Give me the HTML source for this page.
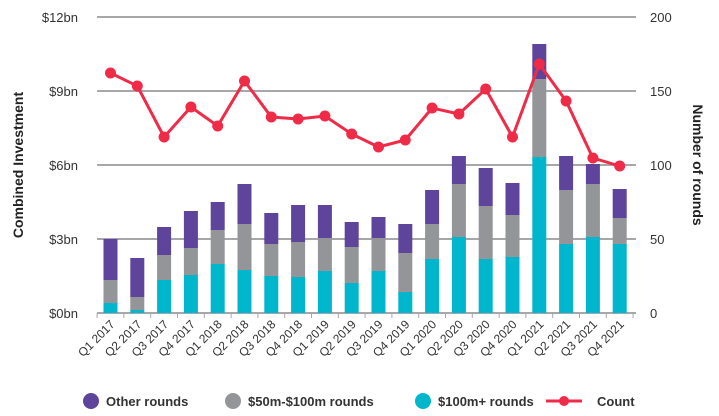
<!DOCTYPE html>
<html><head><style>body{margin:0;background:#fff}svg{display:block}text{font-family:"Liberation Sans",sans-serif}</style></head><body>
<svg width="719" height="416" xmlns="http://www.w3.org/2000/svg">
<g stroke="#a7a7a9" stroke-width="2">
<line x1="97" y1="17" x2="636" y2="17"/><line x1="97" y1="91" x2="636" y2="91"/><line x1="97" y1="165" x2="636" y2="165"/><line x1="97" y1="239" x2="636" y2="239"/><line x1="97" y1="313" x2="636" y2="313"/>
</g>
<g stroke="#a7a7a9" stroke-width="1">
<line x1="97.1" y1="313" x2="97.1" y2="318"/><line x1="123.9" y1="313" x2="123.9" y2="318"/><line x1="150.7" y1="313" x2="150.7" y2="318"/><line x1="177.5" y1="313" x2="177.5" y2="318"/><line x1="204.3" y1="313" x2="204.3" y2="318"/><line x1="231.1" y1="313" x2="231.1" y2="318"/><line x1="257.9" y1="313" x2="257.9" y2="318"/><line x1="284.7" y1="313" x2="284.7" y2="318"/><line x1="311.5" y1="313" x2="311.5" y2="318"/><line x1="338.3" y1="313" x2="338.3" y2="318"/><line x1="365.1" y1="313" x2="365.1" y2="318"/><line x1="391.9" y1="313" x2="391.9" y2="318"/><line x1="418.7" y1="313" x2="418.7" y2="318"/><line x1="445.5" y1="313" x2="445.5" y2="318"/><line x1="472.3" y1="313" x2="472.3" y2="318"/><line x1="499.1" y1="313" x2="499.1" y2="318"/><line x1="525.9" y1="313" x2="525.9" y2="318"/><line x1="552.7" y1="313" x2="552.7" y2="318"/><line x1="579.5" y1="313" x2="579.5" y2="318"/><line x1="606.3" y1="313" x2="606.3" y2="318"/><line x1="633.1" y1="313" x2="633.1" y2="318"/>
</g>
<g fill="#5e449b">
<rect x="103.5" y="239" width="14" height="41"/><rect x="130.3" y="258" width="14" height="39"/><rect x="157.1" y="227" width="14" height="28"/><rect x="183.9" y="211" width="14" height="37"/><rect x="210.7" y="202" width="14" height="28"/><rect x="237.5" y="184" width="14" height="40"/><rect x="264.3" y="213" width="14" height="31"/><rect x="291.1" y="205" width="14" height="37"/><rect x="317.9" y="205" width="14" height="33"/><rect x="344.7" y="222" width="14" height="25"/><rect x="371.5" y="217" width="14" height="21"/><rect x="398.3" y="224" width="14" height="29"/><rect x="425.1" y="190" width="14" height="34"/><rect x="451.9" y="156" width="14" height="28"/><rect x="478.7" y="168" width="14" height="38"/><rect x="505.5" y="183" width="14" height="32"/><rect x="532.3" y="44" width="14" height="35"/><rect x="559.1" y="156" width="14" height="34"/><rect x="585.9" y="164" width="14" height="20"/><rect x="612.7" y="189" width="14" height="29"/>
</g>
<g fill="#939598">
<rect x="103.5" y="280" width="14" height="23"/><rect x="130.3" y="297" width="14" height="13"/><rect x="157.1" y="255" width="14" height="25"/><rect x="183.9" y="248" width="14" height="27"/><rect x="210.7" y="230" width="14" height="34"/><rect x="237.5" y="224" width="14" height="46"/><rect x="264.3" y="244" width="14" height="32"/><rect x="291.1" y="242" width="14" height="35"/><rect x="317.9" y="238" width="14" height="33"/><rect x="344.7" y="247" width="14" height="36"/><rect x="371.5" y="238" width="14" height="33"/><rect x="398.3" y="253" width="14" height="39"/><rect x="425.1" y="224" width="14" height="35"/><rect x="451.9" y="184" width="14" height="53"/><rect x="478.7" y="206" width="14" height="53"/><rect x="505.5" y="215" width="14" height="42"/><rect x="532.3" y="79" width="14" height="78"/><rect x="559.1" y="190" width="14" height="54"/><rect x="585.9" y="184" width="14" height="53"/><rect x="612.7" y="218" width="14" height="26"/>
</g>
<g fill="#00b6cc">
<rect x="103.5" y="303" width="14" height="10"/><rect x="130.3" y="310" width="14" height="3"/><rect x="157.1" y="280" width="14" height="33"/><rect x="183.9" y="275" width="14" height="38"/><rect x="210.7" y="264" width="14" height="49"/><rect x="237.5" y="270" width="14" height="43"/><rect x="264.3" y="276" width="14" height="37"/><rect x="291.1" y="277" width="14" height="36"/><rect x="317.9" y="271" width="14" height="42"/><rect x="344.7" y="283" width="14" height="30"/><rect x="371.5" y="271" width="14" height="42"/><rect x="398.3" y="292" width="14" height="21"/><rect x="425.1" y="259" width="14" height="54"/><rect x="451.9" y="237" width="14" height="76"/><rect x="478.7" y="259" width="14" height="54"/><rect x="505.5" y="257" width="14" height="56"/><rect x="532.3" y="157" width="14" height="156"/><rect x="559.1" y="244" width="14" height="69"/><rect x="585.9" y="237" width="14" height="76"/><rect x="612.7" y="244" width="14" height="69"/>
</g>
<polyline fill="none" stroke="#ef2b48" stroke-width="3" points="110.5,73 137.3,86 164.1,137 190.9,107 217.7,126 244.5,81 271.3,117 298.1,119 324.9,116 351.7,134 378.5,147 405.3,140 432.1,108 458.9,114 485.7,89 512.5,137 539.3,64 566.1,101 592.9,158 619.7,166"/>
<g fill="#ef2b48">
<circle cx="110.5" cy="73" r="5.5"/><circle cx="137.3" cy="86" r="5.5"/><circle cx="164.1" cy="137" r="5.5"/><circle cx="190.9" cy="107" r="5.5"/><circle cx="217.7" cy="126" r="5.5"/><circle cx="244.5" cy="81" r="5.5"/><circle cx="271.3" cy="117" r="5.5"/><circle cx="298.1" cy="119" r="5.5"/><circle cx="324.9" cy="116" r="5.5"/><circle cx="351.7" cy="134" r="5.5"/><circle cx="378.5" cy="147" r="5.5"/><circle cx="405.3" cy="140" r="5.5"/><circle cx="432.1" cy="108" r="5.5"/><circle cx="458.9" cy="114" r="5.5"/><circle cx="485.7" cy="89" r="5.5"/><circle cx="512.5" cy="137" r="5.5"/><circle cx="539.3" cy="64" r="5.5"/><circle cx="566.1" cy="101" r="5.5"/><circle cx="592.9" cy="158" r="5.5"/><circle cx="619.7" cy="166" r="5.5"/>
</g>
<g fill="#333" font-size="13" text-anchor="end">
<text x="78" y="22">$12bn</text><text x="78" y="96">$9bn</text><text x="78" y="170">$6bn</text><text x="78" y="244">$3bn</text><text x="78" y="318">$0bn</text>
</g>
<g fill="#333" font-size="13">
<text x="650" y="22">200</text><text x="650" y="96">150</text><text x="650" y="170">100</text><text x="650" y="244">50</text><text x="650" y="318">0</text>
</g>
<text transform="translate(23,165) rotate(-90)" text-anchor="middle" font-size="14" font-weight="bold" fill="#222">Combined Investment</text>
<text transform="translate(693,165) rotate(90)" text-anchor="middle" font-size="14" font-weight="bold" fill="#222">Number of rounds</text>
<g font-size="12" fill="#333" text-anchor="end">
<text transform="translate(115.5,325) rotate(-45)">Q1 2017</text><text transform="translate(142.3,325) rotate(-45)">Q2 2017</text><text transform="translate(169.1,325) rotate(-45)">Q3 2017</text><text transform="translate(195.9,325) rotate(-45)">Q4 2017</text><text transform="translate(222.7,325) rotate(-45)">Q1 2018</text><text transform="translate(249.5,325) rotate(-45)">Q2 2018</text><text transform="translate(276.3,325) rotate(-45)">Q3 2018</text><text transform="translate(303.1,325) rotate(-45)">Q4 2018</text><text transform="translate(329.9,325) rotate(-45)">Q1 2019</text><text transform="translate(356.7,325) rotate(-45)">Q2 2019</text><text transform="translate(383.5,325) rotate(-45)">Q3 2019</text><text transform="translate(410.3,325) rotate(-45)">Q4 2019</text><text transform="translate(437.1,325) rotate(-45)">Q1 2020</text><text transform="translate(463.9,325) rotate(-45)">Q2 2020</text><text transform="translate(490.7,325) rotate(-45)">Q3 2020</text><text transform="translate(517.5,325) rotate(-45)">Q4 2020</text><text transform="translate(544.3,325) rotate(-45)">Q1 2021</text><text transform="translate(571.1,325) rotate(-45)">Q2 2021</text><text transform="translate(597.9,325) rotate(-45)">Q3 2021</text><text transform="translate(624.7,325) rotate(-45)">Q4 2021</text>
</g>
<g font-size="13" font-weight="bold" fill="#333">
<circle cx="91" cy="401" r="8" fill="#5e449b"/><text x="106" y="406">Other rounds</text>
<circle cx="233" cy="401" r="8" fill="#939598"/><text x="248" y="406">$50m-$100m rounds</text>
<circle cx="423" cy="401" r="8" fill="#00b6cc"/><text x="438" y="406">$100m+ rounds</text>
<line x1="546" y1="401" x2="582" y2="401" stroke="#ef2b48" stroke-width="3"/><circle cx="564" cy="401" r="5" fill="#ef2b48"/><text x="597" y="406">Count</text>
</g>
</svg>
</body></html>
